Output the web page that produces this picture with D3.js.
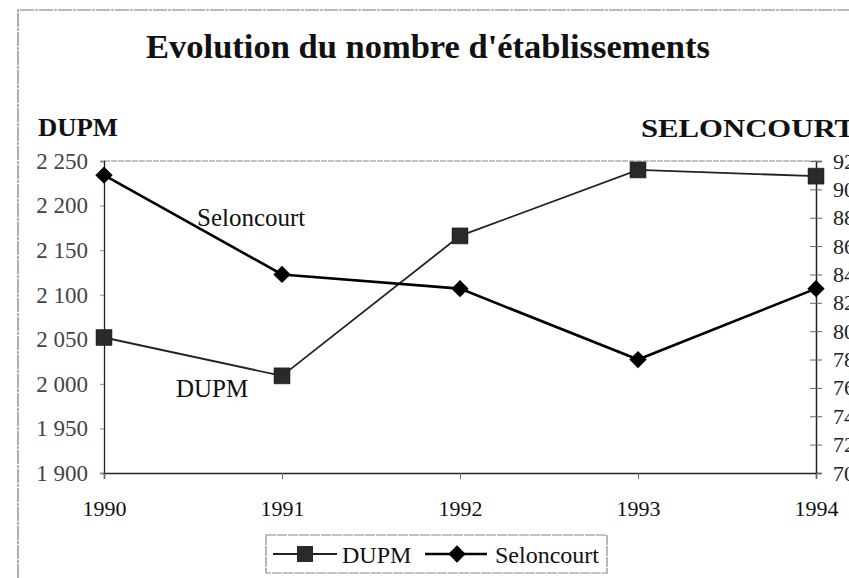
<!DOCTYPE html>
<html>
<head>
<meta charset="utf-8">
<script src="https://cdn.jsdelivr.net/npm/d3@7/dist/d3.min.js"></script>
<style>
  html, body { margin: 0; padding: 0; background: #fff; }
  svg { display: block; }
  svg text { font-family: "Liberation Serif", "Times New Roman", serif !important; }
</style>
</head>
<body>
<svg id="chart" width="849" height="578"></svg>
<script>
const years = [1990, 1991, 1992, 1993, 1994];
const dupm = [2052, 2009, 2166, 2240, 2233];
const seloncourt = [91, 84, 83, 78, 83];
const leftTicks = [1900, 1950, 2000, 2050, 2100, 2150, 2200, 2250];
const rightTicks = [70, 72, 74, 76, 78, 80, 82, 84, 86, 88, 90, 92];
const titleText = "Evolution du nombre d'établissements";
const leftTitle = "DUPM";
const rightTitle = "SELONCOURT";
const seriesNames = ["DUPM", "Seloncourt"];

const SERIF = "Liberation Serif";
const svg = d3.select("#chart");
const W = 849, H = 578;
const plot = { left: 104, right: 816, top: 161, bottom: 473 };

const x = d3.scalePoint().domain(years).range([plot.left, plot.right]);
const yL = d3.scaleLinear().domain([1900, 2250]).range([plot.bottom, plot.top]);
const yR = d3.scaleLinear().domain([70, 92]).range([plot.bottom, plot.top]);

const fr = d3.formatLocale({ decimal: ",", thousands: " ", grouping: [3], currency: ["", ""] });
const fmt = fr.format(",");

// outer chart frame
svg.append("path")
  .attr("d", `M18,${H} L18,10 L${W},10`)
  .attr("fill", "none").attr("stroke", "#777").attr("stroke-width", 1.2)
  .attr("stroke-dasharray", "14,1,3,1");

// Title
svg.append("text").attr("x", 428).attr("y", 58).attr("text-anchor", "middle")
  .attr("font-family", SERIF)
  .attr("font-size", 34.5).attr("font-weight", "bold").attr("fill", "#111").text(titleText);

// Axis titles
svg.append("text").attr("x", 38).attr("y", 136).attr("font-size", 25)
  .attr("font-family", SERIF)
  .attr("textLength", 80).attr("lengthAdjust", "spacingAndGlyphs")
  .attr("font-weight", "bold").attr("fill", "#111").text(leftTitle);
svg.append("text").attr("x", 641).attr("y", 137).attr("font-size", 25)
  .attr("font-family", SERIF)
  .attr("textLength", 214).attr("lengthAdjust", "spacingAndGlyphs")
  .attr("font-weight", "bold").attr("fill", "#111").text(rightTitle);

// Plot area top border (gray)
svg.append("line").attr("x1", plot.left).attr("x2", plot.right)
  .attr("y1", plot.top).attr("y2", plot.top)
  .attr("stroke", "#888").attr("stroke-width", 1.2).attr("stroke-dasharray", "6,1");

// Left axis
const gL = svg.append("g").attr("transform", `translate(${plot.left},0)`)
  .call(d3.axisLeft(yL).tickValues(leftTicks).tickFormat(fmt).tickSize(4).tickPadding(12))
  .attr("font-family", SERIF).attr("font-size", 23);
gL.select(".domain").attr("stroke", "#222").attr("stroke-width", 1.3);
gL.selectAll(".tick line").attr("stroke", "#888");
gL.selectAll(".tick text").attr("font-family", SERIF).attr("font-size", 23).attr("fill", "#444")
  .attr("x", -16);

// Right axis
const gR = svg.append("g").attr("transform", `translate(${plot.right},0)`)
  .call(d3.axisRight(yR).tickValues(rightTicks).tickSize(6).tickPadding(11))
  .attr("font-family", SERIF).attr("font-size", 22);
gR.select(".domain").attr("stroke", "#222").attr("stroke-width", 1.5);
gR.selectAll(".tick line").attr("stroke", "#666").attr("x1", -6);
gR.selectAll(".tick text").attr("font-family", SERIF).attr("font-size", 22).attr("fill", "#222");

// Bottom axis
const gB = svg.append("g").attr("transform", `translate(0,${plot.bottom})`)
  .call(d3.axisBottom(x).tickSize(6).tickPadding(21))
  .attr("font-family", SERIF).attr("font-size", 22);
gB.select(".domain").attr("stroke", "#222").attr("stroke-width", 1.5);
gB.selectAll(".tick line").attr("stroke", "#666");
gB.selectAll(".tick text").attr("font-family", SERIF).attr("font-size", 22).attr("fill", "#111");

// Lines
const lineD = d3.line().x((d, i) => x(years[i])).y(d => yL(d));
const lineS = d3.line().x((d, i) => x(years[i])).y(d => yR(d));

svg.append("path").datum(dupm).attr("d", lineD)
  .attr("fill", "none").attr("stroke", "#222").attr("stroke-width", 1.8);
svg.append("path").datum(seloncourt).attr("d", lineS)
  .attr("fill", "none").attr("stroke", "#000").attr("stroke-width", 2.6);

const sq = d3.symbol(d3.symbolSquare, 256);
const dia = d3.symbol(d3.symbolSquare, 150);

svg.selectAll(".mD").data(dupm).enter().append("path")
  .attr("d", sq)
  .attr("transform", (d, i) => `translate(${x(years[i])},${yL(d)})`)
  .attr("fill", "#2a2a2a").attr("stroke", "#111").attr("stroke-width", 0.5);

svg.selectAll(".mS").data(seloncourt).enter().append("path")
  .attr("d", dia)
  .attr("transform", (d, i) => `translate(${x(years[i])},${yR(d)}) rotate(45)`)
  .attr("fill", "#000");

// In-plot labels
svg.append("text").attr("x", 197).attr("y", 226).attr("font-size", 25)
  .attr("font-family", SERIF).attr("fill", "#111").text(seriesNames[1]);
svg.append("text").attr("x", 176).attr("y", 397).attr("font-size", 25)
  .attr("font-family", SERIF).attr("fill", "#111").text(seriesNames[0]);

// Legend
const lg = svg.append("g");
lg.append("rect").attr("x", 266).attr("y", 535).attr("width", 341).attr("height", 38)
  .attr("fill", "#fff").attr("stroke", "#888").attr("stroke-width", 1.2)
  .attr("stroke-dasharray", "10,1");
lg.append("line").attr("x1", 273).attr("x2", 337).attr("y1", 554).attr("y2", 554)
  .attr("stroke", "#222").attr("stroke-width", 1.8);
lg.append("path").attr("d", sq).attr("transform", "translate(305,554)")
  .attr("fill", "#2a2a2a");
lg.append("text").attr("x", 342).attr("y", 563).attr("font-size", 24)
  .attr("font-family", SERIF).attr("fill", "#111").text(seriesNames[0]);
lg.append("line").attr("x1", 425).attr("x2", 487).attr("y1", 554).attr("y2", 554)
  .attr("stroke", "#000").attr("stroke-width", 2.6);
lg.append("path").attr("d", dia).attr("transform", "translate(457,554) rotate(45)")
  .attr("fill", "#000");
lg.append("text").attr("x", 495).attr("y", 563).attr("font-size", 24)
  .attr("font-family", SERIF).attr("fill", "#111").text(seriesNames[1]);
</script>
</body>
</html>
